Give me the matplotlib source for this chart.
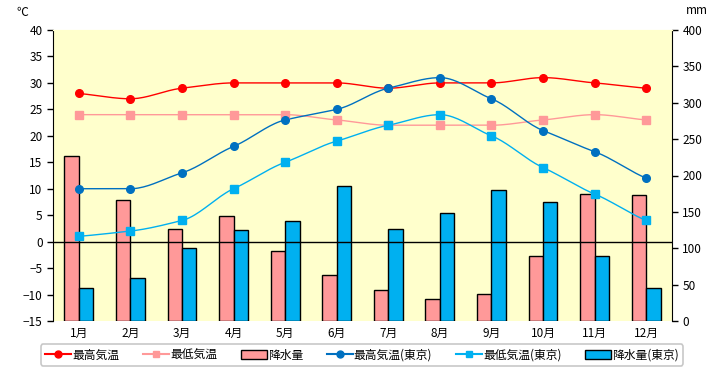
import matplotlib
matplotlib.use("Agg")
import matplotlib.pyplot as plt
import numpy as np
from matplotlib.lines import Line2D
from matplotlib.patches import Patch

plt.rcParams['font.family'] = ['Noto Sans CJK JP', 'DejaVu Sans']

months = ["1月", "2月", "3月", "4月", "5月", "6月", "7月", "8月", "9月", "10月", "11月", "12月"]
max_temp = [28, 27, 29, 30, 30, 30, 29, 30, 30, 31, 30, 29]
min_temp = [24, 24, 24, 24, 24, 23, 22, 22, 22, 23, 24, 23]
rain = [227, 167, 126, 144, 96, 63, 42, 30, 37, 89, 174, 173]
max_temp_tokyo = [10, 10, 13, 18, 23, 25, 29, 31, 27, 21, 17, 12]
min_temp_tokyo = [1, 2, 4, 10, 15, 19, 22, 24, 20, 14, 9, 4]
rain_tokyo = [45, 59, 100, 125, 137, 185, 126, 148, 180, 163, 89, 45]

labels = ["最高気温", "最低気温", "降水量", "最高気温(東京)", "最低気温(東京)", "降水量(東京)"]

RED = "#FF0000"
PINK = "#FF9999"
DBLUE = "#0070C0"
LBLUE = "#00B0F0"
BG = "#FFFFCC"


def smooth(xs, ys, n=20):
    """Monotone cubic (Fritsch-Carlson) curve through the data points, for display."""
    xs = np.asarray(xs, float)
    ys = np.asarray(ys, float)
    h = np.diff(xs)
    d = np.diff(ys) / h
    m = np.zeros_like(ys)
    m[0], m[-1] = d[0], d[-1]
    for i in range(1, len(ys) - 1):
        if d[i - 1] * d[i] <= 0:
            m[i] = 0.0
        else:
            m[i] = 2.0 / (1.0 / d[i - 1] + 1.0 / d[i])
    m *= 0.8
    ox, oy = [], []
    for i in range(len(xs) - 1):
        s = np.linspace(0, 1, n, endpoint=False)
        h00 = 2 * s**3 - 3 * s**2 + 1
        h10 = s**3 - 2 * s**2 + s
        h01 = -2 * s**3 + 3 * s**2
        h11 = s**3 - s**2
        ox.append(xs[i] + s * h[i])
        oy.append(h00 * ys[i] + h10 * h[i] * m[i] + h01 * ys[i + 1] + h11 * h[i] * m[i + 1])
    ox.append(xs[-1:])
    oy.append(ys[-1:])
    return np.concatenate(ox), np.concatenate(oy)


fig = plt.figure(figsize=(7.2, 3.7), dpi=100)
ax = fig.add_axes([53 / 720, 1 - 321 / 370, (672 - 53) / 720, (321 - 30) / 370])
ax2 = ax.twinx()

x = np.arange(len(months))
w = 0.28

ax2.bar(x - w / 2, rain, width=w, color=PINK, edgecolor="black", linewidth=1, zorder=1)
ax2.bar(x + w / 2, rain_tokyo, width=w, color=LBLUE, edgecolor="black", linewidth=1, zorder=1)
ax2.set_ylim(0, 400)
ax2.set_yticks(np.arange(0, 401, 50))

ax.set_zorder(ax2.get_zorder() + 1)
ax.patch.set_visible(False)
ax2.patch.set_visible(True)
ax2.patch.set_facecolor(BG)

ax.axhline(0, color="black", linewidth=1, zorder=2)

for ys, col, mk in [(max_temp, RED, "o"), (min_temp, PINK, "s"),
                    (max_temp_tokyo, DBLUE, "o"), (min_temp_tokyo, LBLUE, "s")]:
    sx, sy = smooth(x, ys)
    ax.plot(sx, sy, color=col, linewidth=1.0, zorder=3)
    ax.plot(x, ys, linestyle="none", marker=mk, color=col, markersize=5.5, zorder=4)

ax.set_xlim(-0.5, 11.5)
ax.set_ylim(-15, 40)
ax.set_yticks(np.arange(-15, 41, 5))
ax.set_xticks(x)
ax.set_xticklabels(months)

for a in (ax, ax2):
    a.tick_params(labelsize=8.5, length=4, width=1, direction="out")
    a.spines["top"].set_color(BG)
ax.tick_params(axis="x", length=0, pad=4)
ax.spines["left"].set_color("black")
ax2.spines["right"].set_color("black")
ax.spines["bottom"].set_visible(False)
ax2.spines["bottom"].set_visible(False)
ax.spines["right"].set_visible(False)
ax2.spines["left"].set_visible(False)

fig.text(22 / 720, 1 - 12 / 370, "℃", fontsize=8.5, ha="center", va="center")
fig.text(697 / 720, 1 - 10 / 370, "mm", fontsize=8.5, ha="center", va="center")

handles = [
    Line2D([], [], color=RED, marker="o", markersize=5),
    Line2D([], [], color=PINK, marker="s", markersize=5),
    Patch(facecolor=PINK, edgecolor="black"),
    Line2D([], [], color=DBLUE, marker="o", markersize=5),
    Line2D([], [], color=LBLUE, marker="s", markersize=5),
    Patch(facecolor=LBLUE, edgecolor="black"),
]
leg = fig.legend(handles, labels, loc="center", bbox_to_anchor=(362 / 720, 1 - 355 / 370),
                 ncol=6, fontsize=8.5, frameon=True, fancybox=True, edgecolor="#BBBBBB",
                 handlelength=2.2, handletextpad=0.1, columnspacing=2.0, borderpad=0.35)
leg.get_frame().set_linewidth(1.2)

fig.savefig("out.png", dpi=100)
